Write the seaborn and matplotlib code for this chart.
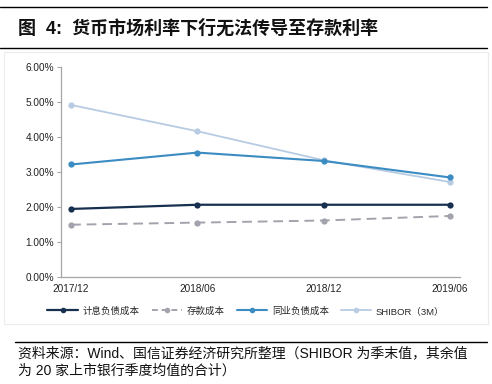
import numpy as np
import pandas as pd
import matplotlib
matplotlib.use("Agg")
import matplotlib.pyplot as plt
import seaborn as sns
from matplotlib.lines import Line2D
from matplotlib.patches import Rectangle

categories = ["2017/12", "2018/06", "2018/12", "2019/06"]
series_names = ["计息负债成本", "存款成本", "同业负债成本", "SHIBOR（3M）"]
interest_cost = [1.94, 2.06, 2.06, 2.06]
deposit_cost = [1.49, 1.55, 1.61, 1.74]
interbank_cost = [3.21, 3.55, 3.31, 2.84]
shibor_3m = [4.91, 4.16, 3.33, 2.71]
y_ticks = [0, 1, 2, 3, 4, 5, 6]

colors = ["#17304f", "#a3a3ad", "#3b8cc2", "#b7cbe3"]
dashes = [False, True, False, False]
widths = [1.6, 1.4, 1.5, 1.3]

sns.set_theme(style="white")
plt.rcParams["font.family"] = ["Liberation Sans", "Noto Sans CJK SC", "DejaVu Sans"]

values = [interest_cost, deposit_cost, interbank_cost, shibor_3m]
rows = []
for name, vals in zip(series_names, values):
    for i, v in enumerate(vals):
        rows.append({"series": name, "x": i, "value": v})
df = pd.DataFrame(rows)

fig = plt.figure(figsize=(4.92, 3.84), dpi=100)
ax = fig.add_axes([0.124, 0.279, 0.811, 0.547])

order = [3, 1, 0, 2]
for k in order:
    name = series_names[k]
    sub = df[df["series"] == name]
    sns.lineplot(data=sub, x="x", y="value", ax=ax, color=colors[k],
                 marker="o", markersize=4.5, markeredgewidth=0,
                 linewidth=widths[k], linestyle=(0, (5, 3)) if dashes[k] else "-",
                 legend=False)

ax.set_xlim(-0.08, 3.08)
ax.set_ylim(0, 6)
ax.set_yticks(y_ticks)
ax.set_yticklabels([f"{t:.2f}%" for t in y_ticks], fontsize=7.2, color="#222222")
ax.set_xticks(range(len(categories)))
ax.set_xticklabels(categories, fontsize=7.2, color="#222222")
ax.tick_params(axis="x", which="major", length=0, pad=5)
ax.set_xticks([i - 0.075 for i in range(1, 4)], minor=True)
ax.tick_params(axis="x", which="minor", length=3, color="#a6a6a6", width=0.8)
ax.tick_params(axis="y", length=3, color="#a6a6a6", width=0.8, pad=2, left=True)
ax.set_xlabel("")
ax.set_ylabel("")
for s in ["top", "right"]:
    ax.spines[s].set_visible(False)
for s in ["left", "bottom"]:
    ax.spines[s].set_color("#a6a6a6")
    ax.spines[s].set_linewidth(0.9)

handles = []
for k in range(4):
    handles.append(Line2D([0], [0], color=colors[k], marker="o", markersize=4,
                          markeredgewidth=0, linewidth=widths[k],
                          linestyle=(0, (3, 2)) if dashes[k] else "-"))
fig.legend(handles, series_names, loc="center", bbox_to_anchor=(0.5, 0.19),
           ncol=4, frameon=False, fontsize=6.8, handlelength=3.2,
           columnspacing=1.3, handletextpad=0.5)

fig.patches.append(Rectangle((0.008, 0.155), 0.984, 0.71, transform=fig.transFigure,
                             fill=False, edgecolor="#ececec", linewidth=0.8))

fig.add_artist(Line2D([0.0, 0.99], [1 - 7 / 384, 1 - 7 / 384], color="black", linewidth=1.0,
                      transform=fig.transFigure))
fig.add_artist(Line2D([0.0, 0.99], [1 - 48 / 384, 1 - 48 / 384], color="black", linewidth=1.0,
                      transform=fig.transFigure))
fig.text(0.036, 1 - 28 / 384, "图  4:  货币市场利率下行无法传导至存款利率", fontsize=13,
         fontweight="bold", va="center", ha="left", color="#111111")

fig.add_artist(Line2D([0.03, 0.99], [1 - 342 / 384, 1 - 342 / 384], color="black", linewidth=1.0,
                      transform=fig.transFigure))
fig.text(0.036, 1 - 353 / 384, "资料来源：Wind、国信证券经济研究所整理（SHIBOR 为季末值，其余值",
         fontsize=10, va="center", ha="left", color="#111111")
fig.text(0.036, 1 - 371 / 384, "为 20 家上市银行季度均值的合计）",
         fontsize=10, va="center", ha="left", color="#111111")

fig.savefig("out.png", dpi=100)
